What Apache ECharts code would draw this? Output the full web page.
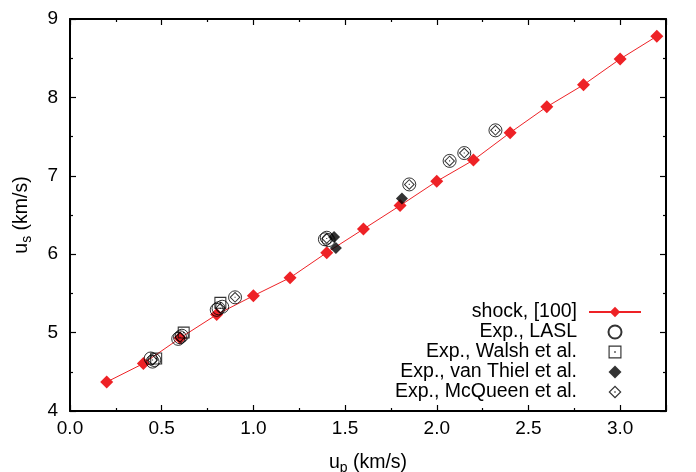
<!DOCTYPE html>
<html>
<head>
<meta charset="utf-8">
<script src="https://cdn.jsdelivr.net/npm/echarts@6/dist/echarts.min.js"></script>
<style>html,body{margin:0;padding:0;background:#fff}#c{width:696px;height:472px}</style>
</head>
<body>
<div id="c"></div>
<script>
// ---- data ----
const shockX = [0.2, 0.4, 0.6, 0.8, 1.0, 1.2, 1.4, 1.6, 1.8, 2.0, 2.2, 2.4, 2.6, 2.8, 3.0, 3.2];
const shockY = [4.37, 4.605, 4.93, 5.23, 5.47, 5.70, 6.02, 6.32, 6.62, 6.93, 7.20, 7.55, 7.88, 8.16, 8.49, 8.78];

const laslX = [0.44, 0.45, 0.46, 0.59, 0.60, 0.61, 0.80, 0.81, 0.83, 0.90, 1.39, 1.40, 1.41, 1.85, 2.07, 2.15, 2.32];
const laslY = [4.67, 4.63, 4.65, 4.92, 4.94, 4.96, 5.29, 5.31, 5.33, 5.45, 6.19, 6.21, 6.18, 6.89, 7.19, 7.29, 7.58];

const walshX = [0.47, 0.62, 0.82];
const walshY = [4.67, 5.00, 5.38];

const vanThielX = [1.44, 1.45, 1.81];
const vanThielY = [6.22, 6.08, 6.71];

const mcqueenX = [0.45, 0.60, 0.82, 0.90, 1.40, 1.85, 2.07, 2.15, 2.32];
const mcqueenY = [4.65, 4.94, 5.31, 5.45, 6.20, 6.89, 7.19, 7.29, 7.58];

const seriesNames = ['shock, [100]', 'Exp., LASL', 'Exp., Walsh et al.', 'Exp., van Thiel et al.', 'Exp., McQueen et al.'];
const xTicks = ['0.0', '0.5', '1.0', '1.5', '2.0', '2.5', '3.0'];
const yTicks = ['4', '5', '6', '7', '8', '9'];

// ---- build ----
const zip = (xs, ys) => xs.map((x, i) => [x, ys[i]]);
const FONT = "'Liberation Sans', Arial, Helvetica, sans-serif";
const RED = '#ee2226';
const squareDot = 'path://M0,0 H100 V100 H0 Z M9,9 V91 H91 V9 Z M44,44 H56 V56 H44 Z';
const diamondDot = 'path://M50,0 L100,50 L50,100 L0,50 Z M50,13 L13,50 L50,87 L87,50 Z M45,45 H55 V55 H45 Z';
const diamondFull = 'path://M50,0 L100,50 L50,100 L0,50 Z';

function xLabel(v) {
  const i = Math.round(v / 0.5);
  return (Math.abs(v - i * 0.5) < 1e-6 && xTicks[i] !== undefined) ? xTicks[i] : '';
}
function yLabel(v) {
  const i = Math.round(v - 4);
  return (Math.abs(v - 4 - i) < 1e-6 && yTicks[i] !== undefined) ? yTicks[i] : '';
}

const axisLine = { show: true, onZero: false, lineStyle: { color: '#000', width: 2 } };
const tick = { show: true, inside: true, length: 6, lineStyle: { color: '#000', width: 1.2 } };
const minor = { show: true, splitNumber: 2, length: 3, lineStyle: { color: '#000', width: 1.2 } };
const nameRich = {
  a: { fontSize: 19.5, fontFamily: FONT, color: '#000' },
  s: { fontSize: 14, fontFamily: FONT, color: '#000', padding: [10, 0, 0, 0] }
};

const chart = echarts.init(document.getElementById('c'), null, { renderer: 'canvas' });
chart.setOption({
  animation: false,
  backgroundColor: '#fff',
  textStyle: { fontFamily: FONT },
  grid: { left: 70, right: 30, top: 19, bottom: 61, containLabel: false, outerBoundsMode: 'none' },
  xAxis: [{
    type: 'value', min: 0, max: 3.25, interval: 0.5, position: 'bottom',
    axisLine: axisLine, axisTick: tick, minorTick: minor, splitLine: { show: false },
    axisLabel: { fontSize: 19, color: '#000', fontFamily: FONT, margin: 8, formatter: xLabel, showMaxLabel: false },
    name: '{a|u}{s|p}{a| (km/s)}', nameLocation: 'middle', nameGap: 40,
    nameTextStyle: { rich: nameRich }
  }, {
    type: 'value', min: 0, max: 3.25, interval: 0.5, position: 'top',
    axisLine: axisLine, axisTick: tick, minorTick: minor, splitLine: { show: false },
    axisLabel: { show: false }
  }],
  yAxis: [{
    type: 'value', min: 4, max: 9, interval: 1, position: 'left',
    axisLine: axisLine, axisTick: tick, minorTick: minor, splitLine: { show: false },
    axisLabel: { fontSize: 19, color: '#000', fontFamily: FONT, margin: 12, formatter: yLabel },
    name: '{a|u}{s|s}{a| (km/s)}', nameLocation: 'middle', nameGap: 36, nameRotate: 90,
    nameTextStyle: { rich: nameRich }
  }, {
    type: 'value', min: 4, max: 9, interval: 1, position: 'right',
    axisLine: axisLine, axisTick: tick, minorTick: minor, splitLine: { show: false },
    axisLabel: { show: false }
  }],
  legend: {
    orient: 'vertical', align: 'right', right: 54, bottom: 70, padding: 0,
    itemWidth: 52, itemHeight: 13, itemGap: 0, selectedMode: false,
    symbolKeepAspect: true,
    textStyle: { fontSize: 19.5, color: '#000', fontFamily: FONT, lineHeight: 19, padding: [0, 7, 0, 0] },
    data: seriesNames
  },
  series: [{
    name: seriesNames[0], type: 'line', data: zip(shockX, shockY),
    symbol: 'diamond', symbolSize: 13, showAllSymbol: true,
    lineStyle: { color: RED, width: 1 }, itemStyle: { color: RED }, z: 2
  }, {
    name: seriesNames[1], type: 'scatter', data: zip(laslX, laslY),
    symbol: 'circle', symbolSize: 13,
    itemStyle: { color: 'rgba(255,255,255,0)', borderColor: '#000', borderWidth: 1 }, z: 3
  }, {
    name: seriesNames[2], type: 'scatter', data: zip(walshX, walshY),
    symbol: squareDot, symbolSize: 12, itemStyle: { color: '#000' }, z: 4
  }, {
    name: seriesNames[3], type: 'scatter', data: zip(vanThielX, vanThielY),
    symbol: diamondFull, symbolSize: 12, itemStyle: { color: '#000' }, z: 5
  }, {
    name: seriesNames[4], type: 'scatter', data: zip(mcqueenX, mcqueenY),
    symbol: diamondDot, symbolSize: 11, itemStyle: { color: '#000' }, z: 6
  }]
});
</script>
</body>
</html>
